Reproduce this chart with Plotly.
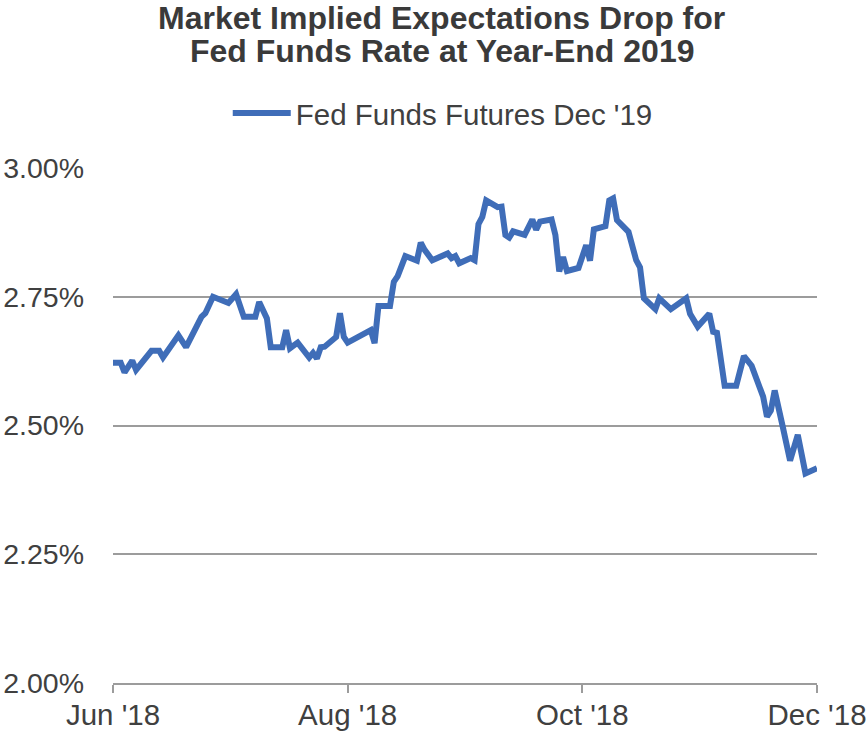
import plotly.graph_objects as go

# Implied year-end 2019 fed funds rate (%) from the Dec '19 futures contract
dates = [
    "2018-06-01", "2018-06-03", "2018-06-04", "2018-06-06", "2018-06-07",
    "2018-06-11", "2018-06-13", "2018-06-14", "2018-06-18", "2018-06-20",
    "2018-06-24", "2018-06-25", "2018-06-27", "2018-07-01", "2018-07-03",
    "2018-07-05", "2018-07-08", "2018-07-09", "2018-07-11", "2018-07-12",
    "2018-07-15", "2018-07-16", "2018-07-17", "2018-07-19", "2018-07-22",
    "2018-07-23", "2018-07-24", "2018-07-25", "2018-07-26", "2018-07-29",
    "2018-07-30", "2018-07-31", "2018-08-01", "2018-08-07", "2018-08-08",
    "2018-08-09", "2018-08-12", "2018-08-13", "2018-08-14", "2018-08-16",
    "2018-08-19", "2018-08-20", "2018-08-21", "2018-08-23", "2018-08-27",
    "2018-08-28", "2018-08-29", "2018-08-30", "2018-09-02", "2018-09-03",
    "2018-09-04", "2018-09-05", "2018-09-06", "2018-09-09", "2018-09-10",
    "2018-09-11", "2018-09-12", "2018-09-13", "2018-09-16", "2018-09-18",
    "2018-09-19", "2018-09-20", "2018-09-23", "2018-09-24", "2018-09-25",
    "2018-09-26", "2018-09-27", "2018-09-30", "2018-10-02", "2018-10-03",
    "2018-10-04", "2018-10-07", "2018-10-08", "2018-10-09", "2018-10-10",
    "2018-10-13", "2018-10-15", "2018-10-16", "2018-10-17", "2018-10-20",
    "2018-10-21", "2018-10-24", "2018-10-28", "2018-10-29", "2018-10-31",
    "2018-11-03", "2018-11-04", "2018-11-05", "2018-11-07", "2018-11-10",
    "2018-11-12", "2018-11-14", "2018-11-17", "2018-11-18", "2018-11-19",
    "2018-11-20", "2018-11-22", "2018-11-24", "2018-11-26", "2018-11-28",
    "2018-12-01",
]
rates = [
    2.622, 2.622, 2.603, 2.626, 2.608,
    2.645, 2.645, 2.632, 2.675, 2.652,
    2.711, 2.718, 2.750, 2.738, 2.755,
    2.711, 2.711, 2.740, 2.708, 2.652,
    2.652, 2.685, 2.650, 2.661, 2.632,
    2.641, 2.630, 2.652, 2.653, 2.672,
    2.718, 2.672, 2.661, 2.685, 2.660,
    2.732, 2.732, 2.779, 2.790, 2.829,
    2.820, 2.855, 2.841, 2.821, 2.834,
    2.825, 2.829, 2.815, 2.825, 2.821,
    2.891, 2.905, 2.937, 2.924, 2.925,
    2.870, 2.865, 2.877, 2.870, 2.900,
    2.880, 2.896, 2.900, 2.870, 2.799,
    2.827, 2.800, 2.806, 2.850, 2.820,
    2.881, 2.887, 2.937, 2.941, 2.899,
    2.876, 2.821, 2.807, 2.747, 2.726,
    2.747, 2.726, 2.747, 2.717, 2.692,
    2.717, 2.682, 2.680, 2.577, 2.577,
    2.635, 2.616, 2.556, 2.517, 2.529,
    2.568, 2.501, 2.432, 2.482, 2.407,
    2.417,
]

series_name = "Fed Funds Futures Dec '19"
title_lines = ["Market Implied Expectations Drop for", "Fed Funds Rate at Year-End 2019"]

y_ticks = [2.00, 2.25, 2.50, 2.75, 3.00]
y_tick_labels = ["2.00%", "2.25%", "2.50%", "2.75%", "3.00%"]
x_ticks = ["2018-06-01", "2018-08-01", "2018-10-01", "2018-12-01"]
x_tick_labels = ["Jun '18", "Aug '18", "Oct '18", "Dec '18"]

FONT = "Liberation Sans, Arial, sans-serif"
TEXT = "#404040"
GRID = "#9c9c9c"
BLUE = "#3F6DB8"

fig = go.Figure()
fig.add_trace(go.Scatter(
    x=dates, y=rates, mode="lines", name=series_name,
    line=dict(color=BLUE, width=6),
))

fig.update_layout(
    width=867, height=734,
    margin=dict(l=113, r=50, t=168, b=51, autoexpand=False),
    paper_bgcolor="white", plot_bgcolor="white",
    font=dict(family=FONT, color=TEXT, size=28.5),
    showlegend=True,
    legend=dict(
        orientation="h", x=0.163, xanchor="left", y=1.106, yanchor="middle",
        font=dict(size=29.5, color=TEXT), itemwidth=58,
        bgcolor="rgba(0,0,0,0)",
    ),
    xaxis=dict(
        type="date", range=[x_ticks[0], x_ticks[-1]], automargin=False,
        tickmode="array", tickvals=x_ticks, ticktext=x_tick_labels,
        showgrid=False, zeroline=False,
        showline=True, linecolor=GRID, linewidth=1.5,
        ticks="outside", ticklen=8, tickwidth=1.5, tickcolor=GRID,
        ticklabelstandoff=-3,
        tickfont=dict(size=29.5, color=TEXT),
    ),
    yaxis=dict(
        range=[2.0, 3.0], automargin=False,
        tickmode="array", tickvals=y_ticks, ticktext=y_tick_labels,
        showgrid=True, gridcolor=GRID, gridwidth=1.5,
        zeroline=False, showline=False, ticks="",
        ticklabelstandoff=28,
        tickfont=dict(size=28.5, color=TEXT),
    ),
)

for text, ypos in zip(title_lines, [1.291, 1.227]):
    fig.add_annotation(
        text=f"<b>{text}</b>", xref="paper", yref="paper",
        x=0.467, y=ypos, xanchor="center", yanchor="middle",
        showarrow=False, font=dict(size=32, color="#3a3a3a", family=FONT),
    )

fig.write_html("out.html")
